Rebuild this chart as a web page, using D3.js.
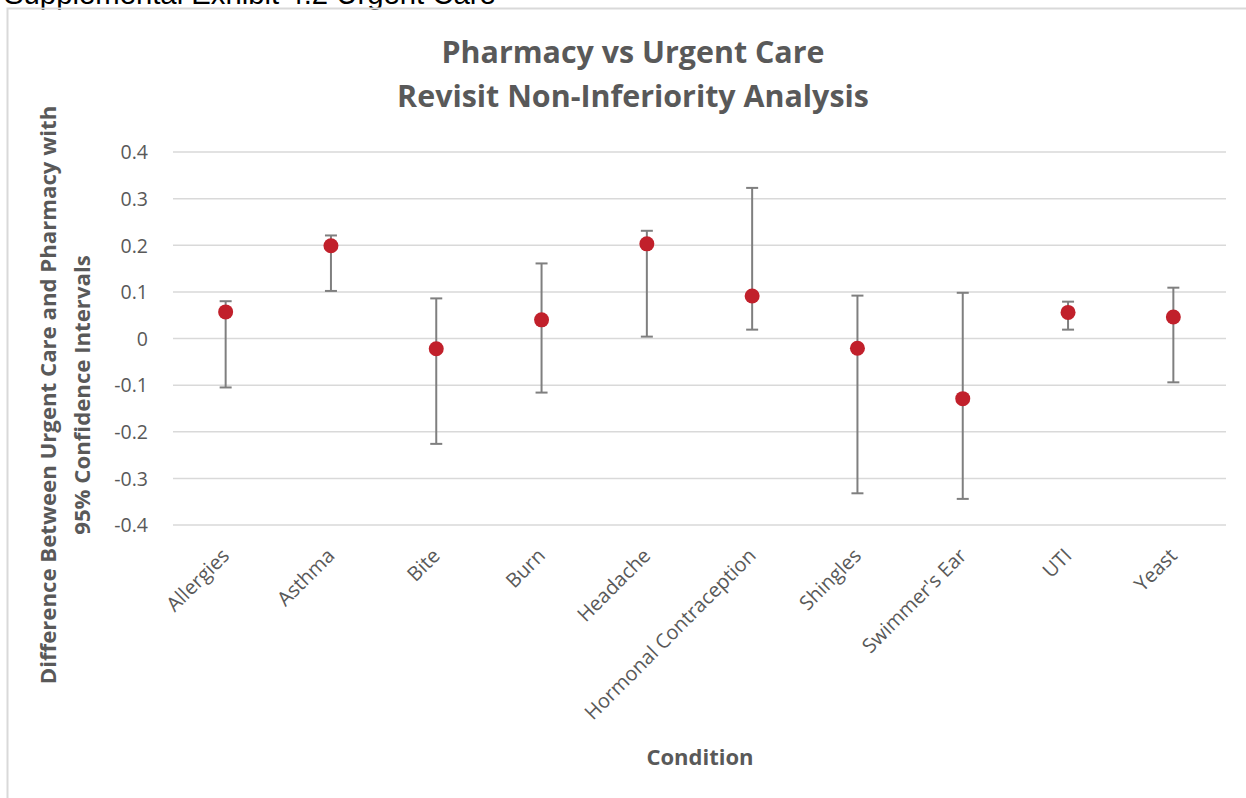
<!DOCTYPE html>
<html><head><meta charset="utf-8">
<script src="https://cdn.jsdelivr.net/npm/d3@7"></script>
<style>html,body{margin:0;padding:0;background:#fff;overflow:hidden}</style>
</head><body>
<svg id="c" width="1246" height="798"></svg>
<script>
const categories = ["Allergies","Asthma","Bite","Burn","Headache","Hormonal Contraception","Shingles","Swimmer's Ear","UTI","Yeast"];
const estimates = [0.057, 0.199, -0.022, 0.040, 0.203, 0.091, -0.021, -0.129, 0.056, 0.046];
const upperCI  = [0.080, 0.221, 0.086, 0.161, 0.231, 0.323, 0.092, 0.098, 0.079, 0.109];
const lowerCI  = [-0.105, 0.102, -0.226, -0.116, 0.004, 0.019, -0.332, -0.344, 0.019, -0.094];
const yTicks = [0.4, 0.3, 0.2, 0.1, 0, -0.1, -0.2, -0.3, -0.4];
const titleLines = ["Pharmacy vs Urgent Care", "Revisit Non-Inferiority Analysis"];
const yTitleLines = ["Difference Between Urgent Care and Pharmacy with", "95% Confidence Intervals"];
const xTitle = "Condition";
const pageHeading = "Supplemental Exhibit 4.2 Urgent Care";

const data = categories.map((c,i)=>({c, v:estimates[i], hi:upperCI[i], lo:lowerCI[i]}));
const svg = d3.select("#c");
const F = "'Open Sans', Lato, sans-serif";
const grey = "#595959";

// page heading (cut off at the top, as in the reference)
svg.append("text").attr("x",4).attr("y",4).attr("font-family","'Liberation Sans', Arial, sans-serif")
  .attr("font-size",29.3).attr("fill","#000").text(pageHeading);

// chart frame
svg.append("path").attr("d","M7.5,1000V8.5H1300").attr("fill","none").attr("stroke","#d9d9d9").attr("stroke-width",2);

const x = d3.scaleBand().domain(categories).range([173,1226]).padding(0);
const y = d3.scaleLinear().domain([-0.4,0.4]).range([525,152]);

// gridlines
svg.append("g").selectAll("line").data(yTicks).join("line")
  .attr("x1",173).attr("x2",1226).attr("y1",d=>y(d)).attr("y2",d=>y(d))
  .attr("stroke","#d9d9d9").attr("stroke-width",1.5);

// y axis
const yAxis = svg.append("g").attr("transform","translate(148,0)")
  .call(d3.axisLeft(y).tickValues(yTicks).tickSize(0).tickPadding(0).tickFormat(d=>String(+d.toFixed(1))));
yAxis.select(".domain").remove();
yAxis.selectAll("text").attr("font-family",F).attr("font-size",19.5).attr("fill",grey).attr("dy","0.35em");

// x axis labels
const xAxis = svg.append("g").attr("transform","translate(0,552)")
  .call(d3.axisBottom(x).tickSize(0).tickPadding(0));
xAxis.select(".domain").remove();
xAxis.selectAll("text").attr("font-family",F).attr("font-size",20).attr("fill",grey)
  .attr("text-anchor","end").attr("y",0).attr("dy","0.35em").attr("transform","rotate(-45)");

// error bars
const g = svg.append("g");
const cx = d=>x(d.c)+x.bandwidth()/2;
g.selectAll("line.bar").data(data).join("line").attr("class","bar")
  .attr("x1",cx).attr("x2",cx).attr("y1",d=>y(d.hi)).attr("y2",d=>y(d.lo))
  .attr("stroke","#7f7f7f").attr("stroke-width",2);
["hi","lo"].forEach(k=>{
  g.selectAll("line.cap"+k).data(data).join("line").attr("class","cap"+k)
   .attr("x1",d=>cx(d)-6).attr("x2",d=>cx(d)+6).attr("y1",d=>y(d[k])).attr("y2",d=>y(d[k]))
   .attr("stroke","#7f7f7f").attr("stroke-width",2);
});
g.selectAll("circle").data(data).join("circle").attr("cx",cx).attr("cy",d=>y(d.v)).attr("r",7.5).attr("fill","#c1202b");

// titles
svg.append("text").attr("x",633).attr("y",0).attr("text-anchor","middle").attr("font-family",F)
  .attr("font-weight","bold").attr("font-size",30.4).attr("fill",grey)
  .selectAll("tspan").data(titleLines).join("tspan").attr("x",633).attr("y",(d,i)=>63+i*44).text(d=>d);

svg.append("text").attr("transform","translate(0,395) rotate(-90)").attr("text-anchor","middle")
  .attr("font-family",F).attr("font-weight","bold").attr("font-size",22.2).attr("fill",grey)
  .selectAll("tspan").data(yTitleLines).join("tspan").attr("x",0).attr("y",(d,i)=>56+i*34).text(d=>d);

svg.append("text").attr("x",700).attr("y",765).attr("text-anchor","middle").attr("font-family",F)
  .attr("font-weight","bold").attr("font-size",22).attr("fill",grey).text(xTitle);
</script>
</body></html>
